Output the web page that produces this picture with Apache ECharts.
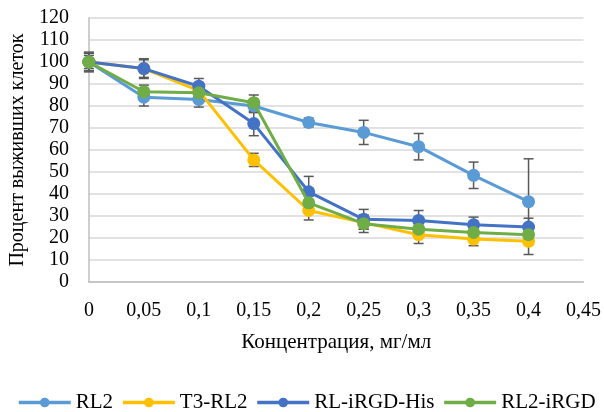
<!DOCTYPE html>
<html><head><meta charset="utf-8">
<script src="https://cdn.jsdelivr.net/npm/echarts@6/dist/echarts.min.js"></script>
<style>html,body{margin:0;padding:0;background:#fff}#c{width:604px;height:412px}</style>
</head><body><div id="c"></div>
<script>
const xVals = [0, 0.05, 0.1, 0.15, 0.2, 0.25, 0.3, 0.35, 0.4];
const seriesNames = ['RL2', 'T3-RL2', 'RL-iRGD-His', 'RL2-iRGD'];
const rl2 = [100, 84, 83, 80, 72.5, 68, 61.5, 48.5, 36.5];
const rl2Err = [4, 4, 3.5, 3, 2, 5.5, 6, 6, 19.5];
const t3rl2 = [100, 97, 87, 55.5, 32.5, 27, 21.5, 19.5, 18.5];
const t3rl2Err = [4, 4, 3.5, 3, 4.3, 3, 4, 3, 6];
const rlHis = [100, 97, 89, 72, 41, 28.5, 28, 26, 25];
const rlHisErr = [4.5, 4.5, 3.5, 5.5, 7, 4.5, 4.5, 3.5, 4];
const rl2iRGD = [100, 86.5, 86, 81.5, 36, 26.5, 24, 22.5, 21.5];
const rl2iRGDErr = [3, 3, 3, 3.5, 3, 4, 3, 3, 3];
const colors = ['#5B9BD5', '#FFC000', '#4472C4', '#70AD47'];
const values = [rl2, t3rl2, rlHis, rl2iRGD];
const errs = [rl2Err, t3rl2Err, rlHisErr, rl2iRGDErr];

const FONT = '"Liberation Serif", "Times New Roman", serif';
const chart = echarts.init(document.getElementById('c'));
const series = [];
values.forEach((v, i) => {
  series.push({
    type: 'custom',
    name: seriesNames[i] + ' err',
    silent: true,
    z: 1,
    data: xVals.map((x, k) => [x, v[k] - errs[i][k], v[k] + errs[i][k]]),
    renderItem: function (params, api) {
      const lo = api.coord([api.value(0), api.value(1)]);
      const hi = api.coord([api.value(0), api.value(2)]);
      const hw = 5;
      const st = { stroke: '#595959', lineWidth: 1.5 };
      return { type: 'group', children: [
        { type: 'line', shape: { x1: lo[0], y1: lo[1], x2: hi[0], y2: hi[1] }, style: st },
        { type: 'line', shape: { x1: lo[0] - hw, y1: lo[1], x2: lo[0] + hw, y2: lo[1] }, style: st },
        { type: 'line', shape: { x1: hi[0] - hw, y1: hi[1], x2: hi[0] + hw, y2: hi[1] }, style: st }
      ]};
    }
  });
});
values.forEach((v, i) => {
  series.push({
    type: 'line',
    name: seriesNames[i],
    z: 2 + i,
    data: xVals.map((x, k) => [x, v[k]]),
    symbol: 'circle',
    symbolSize: 13,
    lineStyle: { width: 3, color: colors[i] },
    itemStyle: { color: colors[i] },
    emphasis: { disabled: true },
    animation: false
  });
});

chart.setOption({
  animation: false,
  color: colors,
  textStyle: { fontFamily: FONT },
  grid: { left: 87, right: 20, top: 18, bottom: 130, containLabel: false },
  xAxis: {
    type: 'value', min: 0, max: 0.45, interval: 0.05,
    name: 'Концентрация, мг/мл', nameLocation: 'middle', nameGap: 50,
    nameTextStyle: { fontFamily: FONT, fontSize: 21, color: '#000' },
    axisLine: { show: true, lineStyle: { color: '#BFBFBF', width: 1.5 } },
    axisTick: { show: false },
    splitLine: { show: false },
    axisLabel: { fontFamily: FONT, fontSize: 20, color: '#000', margin: 19,
      formatter: v => String(+v.toFixed(2)).replace('.', ',') }
  },
  yAxis: {
    type: 'value', min: 0, max: 120, interval: 10,
    name: 'Процент выживших клеток', nameLocation: 'middle', nameGap: 54,
    nameTextStyle: { fontFamily: FONT, fontSize: 20, color: '#000' },
    axisLine: { show: true, lineStyle: { color: '#BFBFBF', width: 1.5 } },
    axisTick: { show: false },
    splitLine: { lineStyle: { color: '#D9D9D9', width: 1.5 } },
    axisLabel: { fontFamily: FONT, fontSize: 20, color: '#000', margin: 20 }
  },
  legend: {
    data: seriesNames, left: 12, top: 387, width: 600,
    itemWidth: 52, itemHeight: 12, itemGap: 8,
    lineStyle: { width: 3.5 },
    textStyle: { fontFamily: FONT, fontSize: 21, color: '#000' },
    selectedMode: false
  },
  series: series
});
</script></body></html>
